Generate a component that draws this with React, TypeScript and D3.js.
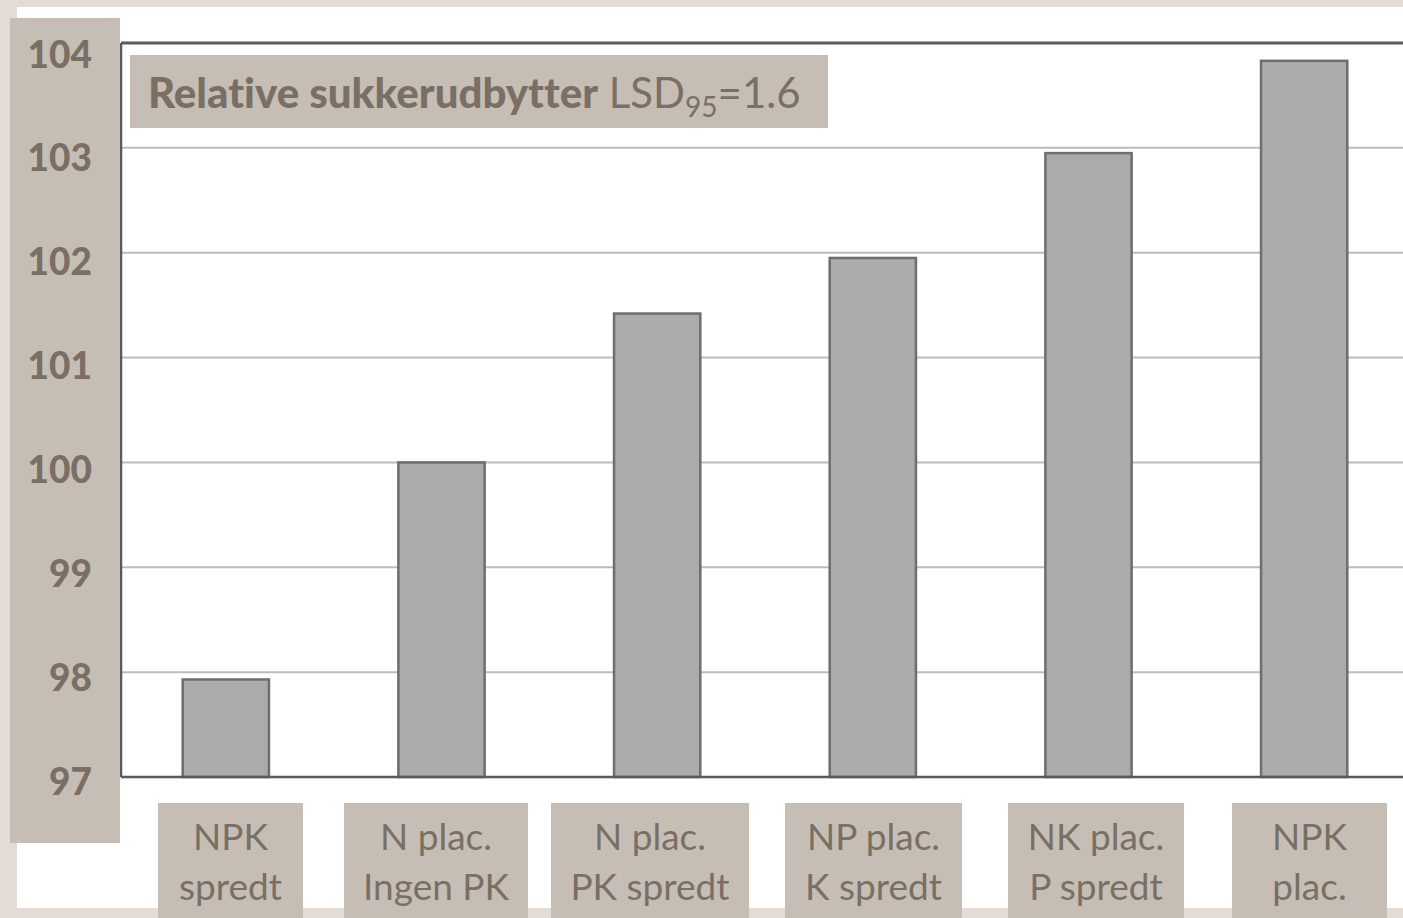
import React from "react";
import * as d3 from "d3";

const categories: string[][] = [
  ["NPK", "spredt"],
  ["N plac.", "Ingen PK"],
  ["N plac.", "PK spredt"],
  ["NP plac.", "K spredt"],
  ["NK plac.", "P spredt"],
  ["NPK", "plac."],
];
const values: number[] = [97.93, 100.0, 101.42, 101.95, 102.95, 103.83];
const yTicks: number[] = [97, 98, 99, 100, 101, 102, 103, 104];
const labelBoxes: number[][] = [
  [158, 303],
  [344, 528],
  [551, 749],
  [785, 962],
  [1008, 1184],
  [1232, 1387],
];

const W = 1403;
const H = 918;
const FONT = "Lato, 'Open Sans', sans-serif";
const TXT = "#7a6f65";
const BOX = "#c6beb4";

export default function App() {
  const ids = categories.map((_, i) => String(i));
  const x = d3.scaleBand<string>().domain(ids).range([118, 1412]).paddingInner(0.6).paddingOuter(0.3);
  const y = d3.scaleLinear().domain([97, 104]).range([777, 43]);
  const yLab = d3.scaleLinear().domain([97, 104]).range([780, 53]);

  return (
    <svg
      width={W}
      height={H}
      style={{ position: "absolute", left: 0, top: 0, display: "block", fontVariantLigatures: "none" }}
    >
      <rect x={0} y={0} width={W} height={H} fill="#e3dbd4" />
      <rect x={17} y={7} width={W - 17} height={901} fill="#ffffff" />
      {/* gridlines */}
      {yTicks.filter((t) => t !== 104 && t !== 97).map((t) => (
        <line key={t} x1={121} x2={W} y1={y(t)} y2={y(t)} stroke="#bcbcbc" strokeWidth={2} />
      ))}
      {/* bars */}
      {values.map((v, i) => (
        <rect
          key={i}
          x={x(ids[i])}
          y={y(v)}
          width={x.bandwidth()}
          height={y(97) - y(v)}
          fill="#ababab"
          stroke="#6e6e6e"
          strokeWidth={2.5}
        />
      ))}
      {/* axis frame */}
      <line x1={121} x2={W} y1={y(104)} y2={y(104)} stroke="#5a5a5a" strokeWidth={3} />
      <line x1={121} x2={W} y1={y(97)} y2={y(97)} stroke="#5a5a5a" strokeWidth={2.5} />
      <line x1={121} x2={121} y1={y(104)} y2={y(97)} stroke="#5a5a5a" strokeWidth={2.5} />
      {/* y label box */}
      <rect x={10} y={18} width={110} height={825} fill={BOX} />
      {yTicks.map((t) => (
        <text
          key={t}
          x={92}
          y={yLab(t)}
          textAnchor="end"
          dominantBaseline="central"
          fontFamily={FONT}
          fontWeight={900}
          fontSize={37}
          fill={TXT}
        >
          {t}
        </text>
      ))}
      {/* title */}
      <rect x={130} y={55} width={698} height={73} fill={BOX} />
      <text x={148} y={108} fontFamily={FONT} fontSize={42} fill={TXT}>
        <tspan fontWeight={900}>Relative sukkerudbytter</tspan>
        <tspan> LSD</tspan>
        <tspan fontSize={28} dy={9}>95</tspan>
        <tspan dy={-9}>=1.6</tspan>
      </text>
      {/* x labels */}
      {categories.map((c, i) => {
        const [x0, x1] = labelBoxes[i];
        const cx = (x0 + x1) / 2;
        return (
          <g key={i}>
            <rect x={x0} y={803} width={x1 - x0} height={H - 803} fill={BOX} />
            <text x={cx} y={850} textAnchor="middle" fontFamily={FONT} fontSize={37} fill={TXT}>
              {c[0]}
            </text>
            <text x={cx} y={900} textAnchor="middle" fontFamily={FONT} fontSize={37} fill={TXT}>
              {c[1]}
            </text>
          </g>
        );
      })}
    </svg>
  );
}
